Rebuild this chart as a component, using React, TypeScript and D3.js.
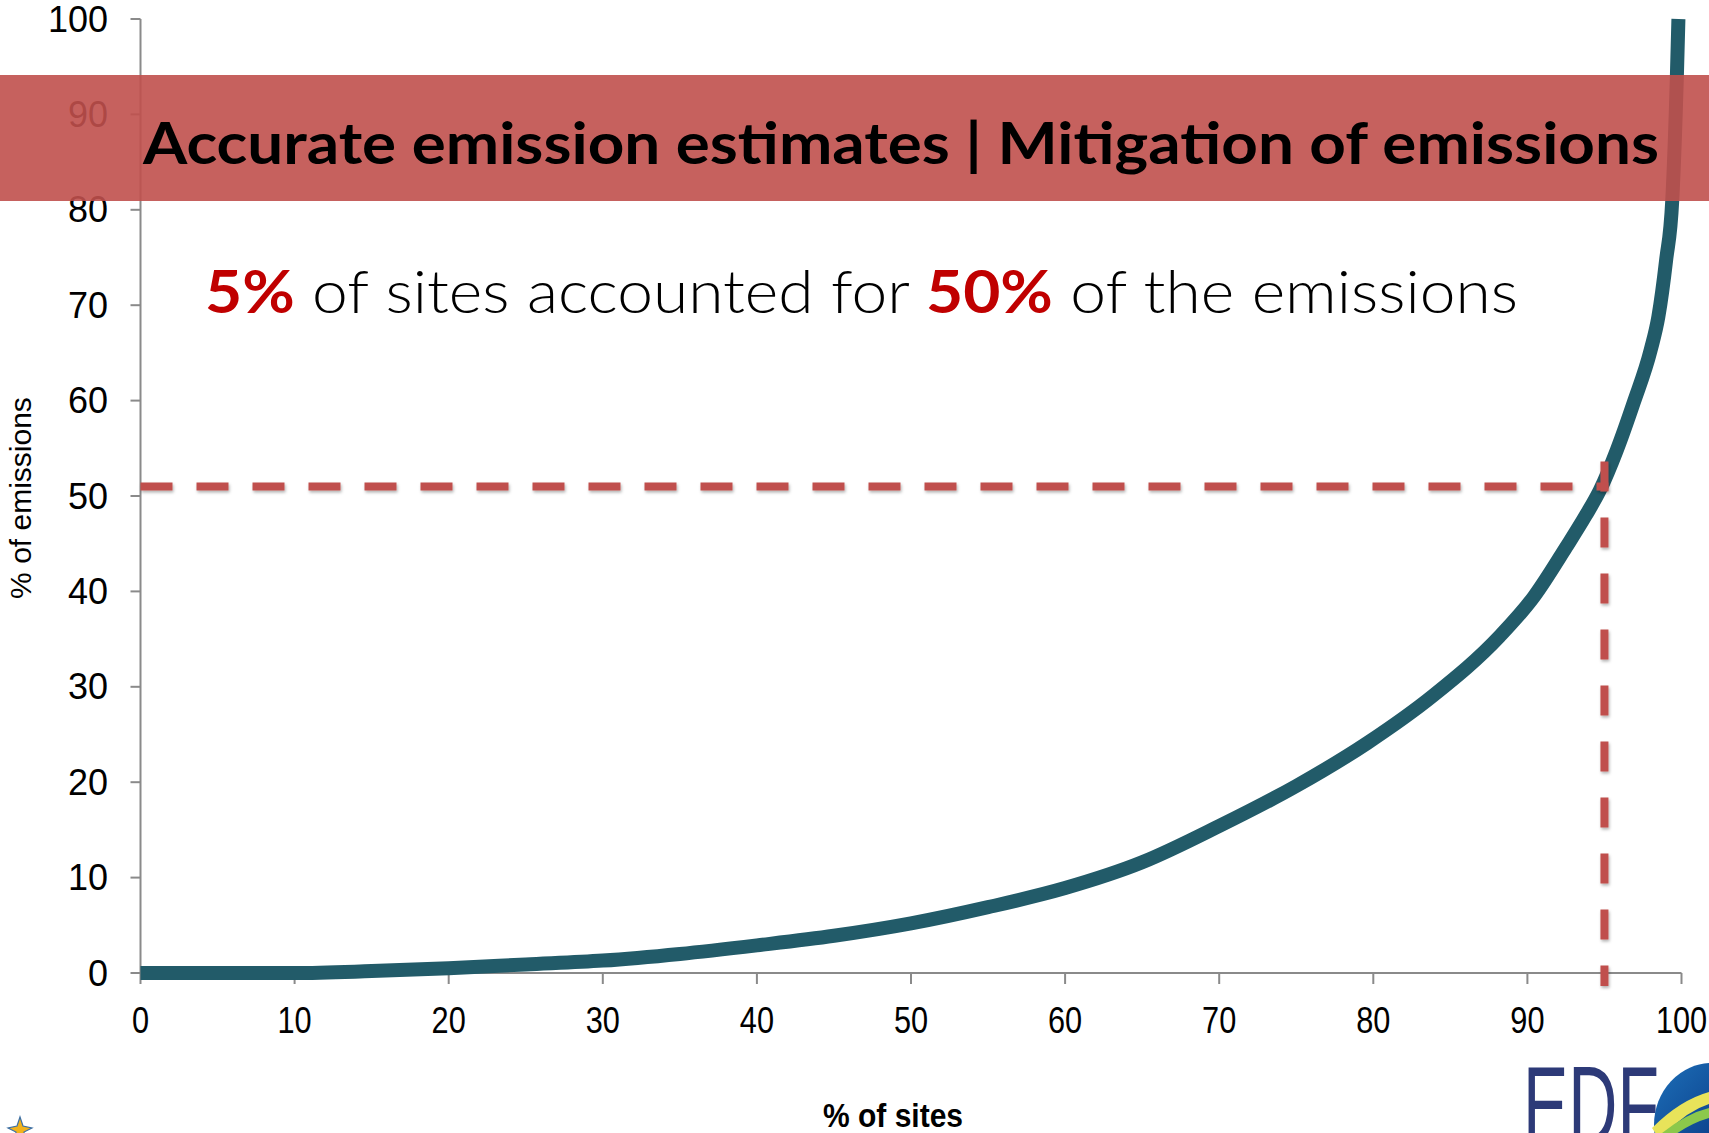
import React from "react";
import * as d3 from "d3";

// Cumulative share of emissions vs. share of sites (sites sorted from smallest to largest emitter)
const sitePct = [0, 5, 10, 15, 20, 25, 30, 35, 40, 45, 50, 55, 60, 65, 70, 75, 79.6, 83.9, 88.2, 90.4, 92.5, 93.8, 94.7, 95.8, 96.9, 98.0, 98.5, 99.0, 99.4, 99.7, 99.8];
const emissionPct = [0, 0, 0, 0.2, 0.5, 0.9, 1.3, 2.0, 2.9, 3.9, 5.2, 6.9, 8.9, 11.6, 15.4, 19.6, 24.1, 29.1, 35.3, 39.4, 44.6, 48.0, 50.6, 54.8, 59.8, 65.3, 68.8, 74.7, 81, 94, 100];

const xTicks = [0, 10, 20, 30, 40, 50, 60, 70, 80, 90, 100];
const yTicks = [0, 10, 20, 30, 40, 50, 60, 70, 80, 90, 100];

// Reference guide: the top 5% of sites
const guideSite = [95];
const guideEmission = [51];

const bannerText = "Accurate emission estimates | Mitigation of emissions";
const headlineParts = [
  { text: "5%", strong: true },
  { text: " of sites accounted for ", strong: false },
  { text: "50%", strong: true },
  { text: " of the emissions", strong: false },
];
const xTitle = "% of sites";
const yTitle = "% of emissions";

const W = 1709;
const H = 1133;

export default function App() {
  const x = d3.scaleLinear().domain([0, 100]).range([140.5, 1681.5]);
  const y = d3.scaleLinear().domain([0, 100]).range([973, 19]);

  const pts: [number, number][] = sitePct.map((s, i) => [s, emissionPct[i]]);
  const line = d3
    .line<[number, number]>()
    .x((d) => x(d[0]))
    .y((d) => y(d[1]))
    .curve(d3.curveMonotoneX);

  const axisColor = "#8a8a8a";
  const curveColor = "#225B69";
  const guideColor = "#C0504D";
  const gx = x(guideSite[0]);
  const gy = y(guideEmission[0]);
  const sans = "'Liberation Sans', Arial, sans-serif";

  return (
    <svg
      width={W}
      height={H}
      viewBox={`0 0 ${W} ${H}`}
      style={{ position: "fixed", left: 0, top: 0, background: "#fff" }}
    >
      <defs>
        <filter id="dashShadow" x="-10%" y="-10%" width="120%" height="120%">
          <feDropShadow dx="1" dy="2" stdDeviation="1.5" floodColor="#000" floodOpacity="0.3" />
        </filter>
        <linearGradient id="globe" x1="0" y1="0" x2="1" y2="1">
          <stop offset="0" stopColor="#1d6fb8" />
          <stop offset="0.6" stopColor="#0b3f8a" />
          <stop offset="1" stopColor="#0a2f6e" />
        </linearGradient>
      </defs>

      {/* y axis */}
      <line x1={x(0)} x2={x(0)} y1={y(100)} y2={y(0)} stroke={axisColor} strokeWidth={2} />
      {yTicks.map((t) => (
        <g key={"y" + t}>
          <line x1={x(0) - 10} x2={x(0)} y1={y(t)} y2={y(t)} stroke={axisColor} strokeWidth={2} />
          <text
            x={108}
            y={y(t)}
            textAnchor="end"
            dominantBaseline="central"
            fontFamily={sans}
            fontSize={36}
            fill="#000"
          >
            {t}
          </text>
        </g>
      ))}

      {/* x axis */}
      <line x1={x(0)} x2={x(100)} y1={y(0)} y2={y(0)} stroke={axisColor} strokeWidth={2} />
      {xTicks.map((t) => (
        <g key={"x" + t}>
          <line x1={x(t)} x2={x(t)} y1={y(0)} y2={y(0) + 11} stroke={axisColor} strokeWidth={2} />
          <text
            transform={`translate(${x(t)}, 1033) scale(0.83, 1)`}
            textAnchor="middle"
            fontFamily={sans}
            fontSize={37}
            fill="#000"
          >
            {t}
          </text>
        </g>
      ))}

      {/* axis titles */}
      <text
        transform={`translate(31, 498) rotate(-90)`}
        textAnchor="middle"
        fontFamily={sans}
        fontSize={30}
        fill="#000"
      >
        {yTitle}
      </text>
      <text
        x={823}
        y={1127}
        textLength={140}
        lengthAdjust="spacingAndGlyphs"
        fontFamily={sans}
        fontWeight="bold"
        fontSize={33}
        fill="#000"
      >
        {xTitle}
      </text>

      {/* cumulative emissions curve */}
      <path d={line(pts) ?? ""} fill="none" stroke={curveColor} strokeWidth={14} strokeLinejoin="round" />

      {/* guide lines */}
      <g filter="url(#dashShadow)">
        <line
          x1={x(0)}
          x2={gx + 4}
          y1={gy}
          y2={gy}
          stroke={guideColor}
          strokeWidth={8}
          strokeDasharray="32 24"
        />
        <line
          x1={gx}
          x2={gx}
          y1={gy - 25}
          y2={y(0) + 13}
          stroke={guideColor}
          strokeWidth={8}
          strokeDasharray="30 26"
        />
      </g>

      {/* headline */}
      <text
        x={205}
        y={313}
        textLength={1313}
        lengthAdjust="spacingAndGlyphs"
        fontFamily="Lato, 'Open Sans', sans-serif"
        fontSize={60}
        fill="#000"
      >
        {headlineParts.map((p, i) => (
          <tspan
            key={i}
            fontWeight={p.strong ? 700 : 300}
            fill={p.strong ? "#C00000" : "#000"}
          >
            {p.text}
          </tspan>
        ))}
      </text>

      {/* banner */}
      <rect x={0} y={75} width={W} height={126} fill="#C0504D" opacity={0.9} />
      <text
        x={143}
        y={164}
        textLength={1516}
        lengthAdjust="spacingAndGlyphs"
        fontFamily="Lato, 'Open Sans', sans-serif"
        fontWeight="bold"
        fontSize={58}
        fill="#000"
      >
        {bannerText}
      </text>

      {/* footer marks */}
      <g transform="translate(20, 1130)">
        <path
          d="M0,-13 L3,-4 L12,-2 L4,2 L5,10 L0,5 L-5,10 L-4,2 L-12,-2 L-3,-4 Z"
          fill="#f2b31c"
          stroke="#3a6ea5"
          strokeWidth={1.2}
        />
      </g>
      <text
        x={1523}
        y={1144}
        textLength={136}
        lengthAdjust="spacingAndGlyphs"
        fontFamily={sans}
        fontSize={112}
        fill="#2d3a78"
      >
        EDF
      </text>
      <g>
        <ellipse cx={1712} cy={1125} rx={58} ry={62} fill="url(#globe)" />
        <path d="M1652,1128 Q1680,1100 1709,1092 L1709,1104 Q1684,1112 1660,1140 Z" fill="#e8e35a" />
        <path d="M1656,1138 Q1684,1114 1709,1108 L1709,1118 Q1688,1124 1668,1140 Z" fill="#8cc84b" />
      </g>
    </svg>
  );
}
